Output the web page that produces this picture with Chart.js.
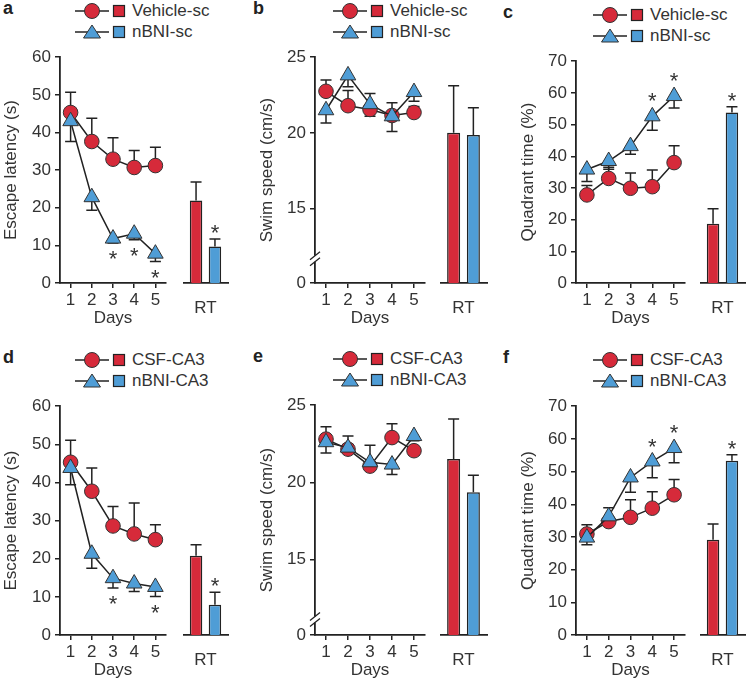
<!DOCTYPE html>
<html>
<head>
<meta charset="utf-8">
<script src="https://cdn.jsdelivr.net/npm/chart.js@4.4.0/dist/chart.umd.min.js"></script>
<style>
  body { margin: 0; background: #fff; }
  #fig { position: relative; width: 747px; height: 680px; overflow: hidden;
         font-family: 'Liberation Sans', Arial, Helvetica, sans-serif; color: #333; }
  #fig canvas { position: absolute; }
  .letter { position: absolute; font-weight: bold; font-size: 18px; color: #222; line-height: 18px; }
  .leg { position: absolute; height: 22px; display: flex; align-items: center; font-size: 17px; white-space: nowrap; }
  .leg span { margin-left: 5px; }
</style>
</head>
<body>
<div id="fig"></div>
<script>
const days = ['1', '2', '3', '4', '5'];
const rtLabels = ['RT'];
const scNames = ['Vehicle-sc', 'nBNI-sc'];
const ca3Names = ['CSF-CA3', 'nBNI-CA3'];

// a: escape latency, sc
const aVeh = [45.3, 37.6, 32.9, 30.7, 31.2];
const aVehSem = [5.4, 6.2, 5.7, 4.5, 4.9];
const aNbni = [43.0, 22.8, 11.8, 13.1, 7.8];
const aNbniSem = [-5.4, -3.5, -1.2, -1.6, -2.1];
const aStars = [0, 0, 1, 1, 1];
const aRt = [21.9, 9.7];
const aRtSem = [4.9, 2.0];
const aRtStars = [0, 1];

// b: swim speed, sc (signed sem: + up, - down)
const bVeh = [22.75, 21.8, 21.55, 21.15, 21.35];
const bVehSem = [0.75, 1.0, -0.45, 0.85, 0.4];
const bNbni = [21.5, 23.8, 21.9, 21.1, 22.7];
const bNbniSem = [-0.85, -0.75, 0.7, -1.0, -0.6];
const bRt = [20.0, 19.85];
const bRtSem = [3.1, 1.8];

// c: quadrant time, sc
const cVeh = [27.8, 33.0, 29.9, 30.4, 38.0];
const cVehSem = [3.0, 3.5, 4.8, 5.3, 5.3];
const cNbni = [35.8, 38.5, 43.2, 52.6, 59.0];
const cNbniSem = [-3.8, -2.6, -2.6, -4.4, -3.8];
const cStars = [0, 0, 0, 1, 1];
const cRt = [18.7, 53.8];
const cRtSem = [4.7, 1.8];
const cRtStars = [0, 1];

// d: escape latency, CA3
const dVeh = [45.3, 37.7, 28.6, 26.5, 25.0];
const dVehSem = [5.8, 6.1, 5.1, 8.1, 3.9];
const dNbni = [43.8, 21.3, 14.9, 13.5, 12.6];
const dNbniSem = [-4.4, -3.8, -2.6, -2.1, -2.5];
const dStars = [0, 0, 1, 0, 1];
const dRt = [20.75, 7.9];
const dRtSem = [2.9, 3.3];
const dRtStars = [0, 1];

// e: swim speed, CA3
const eVeh = [22.8, 22.15, 21.05, 22.9, 22.05];
const eVehSem = [0.8, 0.3, -0.25, 0.9, -0.3];
const eNbni = [22.6, 22.25, 21.3, 21.15, 23.0];
const eNbniSem = [-0.7, 0.75, 1.1, -0.65, -0.3];
const eRt = [21.5, 19.35];
const eRtSem = [2.6, 1.1];

// f: quadrant time, CA3
const fVeh = [30.9, 34.7, 36.0, 38.8, 42.9];
const fVehSem = [2.8, -1.0, 5.4, 5.0, 4.7];
const fNbni = [29.8, 36.3, 48.2, 53.1, 57.2];
const fNbniSem = [-2.2, 2.6, -4.5, -5.0, -4.5];
const fStars = [0, 0, 0, 1, 1];
const fRt = [29.1, 53.3];
const fRtSem = [4.8, 1.8];
const fRtStars = [0, 1];

const latTicks = [0, 10, 20, 30, 40, 50, 60];
const quadTicks = [0, 10, 20, 30, 40, 50, 60, 70];
const swimBase = 10.1;
const swimTicks = [swimBase, 15, 20, 25];

const RED = '#d62a3a';
const BLUE = '#4f9dd6';
const INK = '#222';

Chart.defaults.font.family = "'Liberation Sans', Arial, Helvetica, sans-serif";
Chart.defaults.font.size = 17;
Chart.defaults.color = '#333';

const cols = [
  { x0: 0,   titleX: 11,  yAxisX: 60,  lineRight: 172, rtLeft: 183, rtRight: 228, legX: 75 },
  { x0: 250, titleX: 267, yAxisX: 315, lineRight: 431, rtLeft: 440, rtRight: 487, legX: 83 },
  { x0: 500, titleX: 528, yAxisX: 576, lineRight: 691, rtLeft: 700, rtRight: 745, legX: 93 }
];

const panels = [
  { id: 'a', col: 0, top: 57, bottom: 283, yTitle: 'Escape latency (s)', ticks: latTicks, names: scNames,
    veh: aVeh, vehSem: aVehSem, nb: aNbni, nbSem: aNbniSem, stars: aStars, starSide: 'below', rt: aRt, rtSem: aRtSem, rtStars: aRtStars },
  { id: 'b', col: 1, top: 57, bottom: 283, yTitle: 'Swim speed (cm/s)', ticks: swimTicks, names: scNames, breakAt: 11.7,
    veh: bVeh, vehSem: bVehSem, nb: bNbni, nbSem: bNbniSem, rt: bRt, rtSem: bRtSem },
  { id: 'c', col: 2, top: 61, bottom: 283, yTitle: 'Quadrant time (%)', ticks: quadTicks, names: scNames,
    veh: cVeh, vehSem: cVehSem, nb: cNbni, nbSem: cNbniSem, stars: cStars, starSide: 'above', rt: cRt, rtSem: cRtSem, rtStars: cRtStars },
  { id: 'd', col: 0, top: 406, bottom: 635, yTitle: 'Escape latency (s)', ticks: latTicks, names: ca3Names,
    veh: dVeh, vehSem: dVehSem, nb: dNbni, nbSem: dNbniSem, stars: dStars, starSide: 'below', rt: dRt, rtSem: dRtSem, rtStars: dRtStars },
  { id: 'e', col: 1, top: 405, bottom: 635, yTitle: 'Swim speed (cm/s)', ticks: swimTicks, names: ca3Names, breakAt: 11.1,
    veh: eVeh, vehSem: eVehSem, nb: eNbni, nbSem: eNbniSem, rt: eRt, rtSem: eRtSem },
  { id: 'f', col: 2, top: 406, bottom: 635, yTitle: 'Quadrant time (%)', ticks: quadTicks, names: ca3Names,
    veh: fVeh, vehSem: fVehSem, nb: fNbni, nbSem: fNbniSem, stars: fStars, starSide: 'above', rt: fRt, rtSem: fRtSem, rtStars: fRtStars }
];

// error bars + significance stars + axis break
const decor = {
  id: 'decor',
  beforeDatasetsDraw(chart) {
    const { ctx } = chart;
    const y = chart.scales.y;
    chart.data.datasets.forEach((ds, i) => {
      if (!ds.sem) return;
      chart.getDatasetMeta(i).data.forEach((el, j) => {
        const py = y.getPixelForValue(ds.data[j] + ds.sem[j]);
        ctx.save();
        ctx.strokeStyle = INK;
        ctx.lineWidth = 1.5;
        ctx.beginPath();
        ctx.moveTo(el.x, el.y);
        ctx.lineTo(el.x, py);
        ctx.moveTo(el.x - 5.5, py);
        ctx.lineTo(el.x + 5.5, py);
        ctx.stroke();
        ctx.restore();
      });
    });
  },
  afterDatasetsDraw(chart) {
    const { ctx } = chart;
    const y = chart.scales.y;
    chart.data.datasets.forEach((ds, i) => {
      if (!ds.stars) return;
      const r = ds.pointRadius || 0;
      chart.getDatasetMeta(i).data.forEach((el, j) => {
        if (!ds.stars[j]) return;
        const errPx = y.getPixelForValue(ds.data[j] + ds.sem[j]);
        const cy = ds.starSide === 'below'
          ? Math.max(errPx, el.y + r / 2) + 12
          : Math.min(errPx, el.y - r) - 10;
        ctx.save();
        ctx.fillStyle = '#333';
        ctx.font = "22px 'Liberation Sans', Arial, sans-serif";
        ctx.textAlign = 'center';
        ctx.textBaseline = 'middle';
        ctx.fillText('*', el.x, cy + 5);
        ctx.restore();
      });
    });
  },
  afterDraw(chart) {
    const brk = chart.options.plugins.decor && chart.options.plugins.decor.breakAt;
    if (!brk) return;
    const { ctx } = chart;
    const x = chart.chartArea.left;
    const py = chart.scales.y.getPixelForValue(brk);
    ctx.save();
    ctx.fillStyle = '#fff';
    ctx.fillRect(x - 3, py - 3, 6, 6);
    ctx.strokeStyle = INK;
    ctx.lineWidth = 1.3;
    ctx.beginPath();
    ctx.moveTo(x - 5, py + 1); ctx.lineTo(x + 5, py - 7);
    ctx.moveTo(x - 5, py + 7); ctx.lineTo(x + 5, py - 1);
    ctx.stroke();
    ctx.restore();
  }
};

const fig = document.getElementById('fig');
const padTop = 14;
const xAxisH = 46;

function makeCanvas(left, top, w, h) {
  const c = document.createElement('canvas');
  c.width = w; c.height = h;
  c.style.left = left + 'px'; c.style.top = top + 'px';
  c.style.width = w + 'px'; c.style.height = h + 'px';
  fig.appendChild(c);
  return c;
}

function yScale(p, show, yW) {
  const t = p.ticks;
  return {
    display: show,
    min: t[0], max: t[t.length - 1],
    afterBuildTicks: (s) => { s.ticks = t.map((v) => ({ value: v })); },
    afterFit: (s) => { if (show) s.width = yW; },
    grid: { drawOnChartArea: false, drawTicks: true, tickLength: 5, color: INK, lineWidth: 1.5 },
    border: { display: show, color: INK, width: 1.8 },
    ticks: { padding: 4, color: '#333', callback: (v) => (v === swimBase ? '0' : v) },
    title: { display: show, text: p.yTitle, color: '#333', padding: 0, font: { size: 17 } }
  };
}

function legendRow(x, cy, color, shape, text) {
  const d = document.createElement('div');
  d.className = 'leg';
  d.style.left = x + 'px';
  d.style.top = (cy - 11) + 'px';
  const marker = shape === 'circle'
    ? `<circle cx="17" cy="11" r="7.5" fill="${color}" stroke="#333" stroke-width="1"/>`
    : `<polygon points="17,4 25.5,17 8.5,17" fill="${color}" stroke="#333" stroke-width="1"/>`;
  d.innerHTML = `<svg width="52" height="22">
      <line x1="0" y1="11" x2="34" y2="11" stroke="${INK}" stroke-width="1.5"/>${marker}
      <rect x="38.5" y="5.5" width="11" height="11" fill="${color}" stroke="${INK}" stroke-width="1.2"/>
    </svg><span>${text}</span>`;
  fig.appendChild(d);
}

panels.forEach((p) => {
  const col = cols[p.col];
  const plotH = p.bottom - p.top;
  const canvasTop = p.top - padTop;
  const canvasH = plotH + padTop + xAxisH;

  // panel letter and legend
  const L = document.createElement('div');
  L.className = 'letter';
  L.textContent = p.id;
  L.style.left = (col.x0 + 3) + 'px';
  L.style.top = (p.top - 58) + 'px';
  fig.appendChild(L);
  legendRow(col.x0 + col.legX, p.top - 46, RED, 'circle', p.names[0]);
  legendRow(col.x0 + col.legX, p.top - 25, BLUE, 'triangle', p.names[1]);

  // daily line chart
  const cl = col.titleX - 10;
  const yW = col.yAxisX - cl;
  const lc = makeCanvas(cl, canvasTop, col.lineRight - cl + 4, canvasH);
  new Chart(lc, {
    type: 'line',
    data: {
      labels: days,
      datasets: [
        { label: p.names[1], data: p.nb, sem: p.nbSem, stars: p.stars, starSide: p.starSide, order: 0,
          borderColor: INK, borderWidth: 1.5, pointStyle: 'triangle', pointRadius: 9,
          pointBackgroundColor: BLUE, pointBorderColor: '#333', pointBorderWidth: 1, clip: false },
        { label: p.names[0], data: p.veh, sem: p.vehSem, order: 1,
          borderColor: INK, borderWidth: 1.5, pointStyle: 'circle', pointRadius: 7.3,
          pointBackgroundColor: RED, pointBorderColor: '#333', pointBorderWidth: 1, clip: false }
      ]
    },
    options: {
      responsive: false, animation: false, devicePixelRatio: 1,
      layout: { padding: { top: padTop, right: 4, left: 0, bottom: 0 } },
      plugins: { legend: { display: false }, tooltip: { enabled: false }, decor: { breakAt: p.breakAt } },
      scales: {
        x: {
          type: 'category', offset: true,
          afterFit: (s) => { s.height = xAxisH; },
          grid: { drawOnChartArea: false, drawTicks: true, tickLength: 5, color: INK, lineWidth: 1.5 },
          border: { display: true, color: INK, width: 1.8 },
          ticks: { padding: 2, color: '#333', maxRotation: 0 },
          title: { display: true, text: 'Days', color: '#333', padding: 0, font: { size: 17 } }
        },
        y: yScale(p, true, yW)
      }
    },
    plugins: [decor]
  });

  // retention test bars
  const bc = makeCanvas(col.rtLeft, canvasTop, col.rtRight - col.rtLeft + 2, canvasH);
  const base = p.breakAt ? swimBase : 0;
  new Chart(bc, {
    type: 'bar',
    data: {
      labels: rtLabels,
      datasets: [
        { label: p.names[0], data: [p.rt[0]], sem: [p.rtSem[0]], stars: p.rtStars ? [p.rtStars[0]] : null,
          starSide: 'above', base, backgroundColor: RED, borderColor: INK, borderWidth: 1.5,
          categoryPercentage: 0.84, barPercentage: 0.66 },
        { label: p.names[1], data: [p.rt[1]], sem: [p.rtSem[1]], stars: p.rtStars ? [p.rtStars[1]] : null,
          starSide: 'above', base, backgroundColor: BLUE, borderColor: INK, borderWidth: 1.5,
          categoryPercentage: 0.84, barPercentage: 0.66 }
      ]
    },
    options: {
      responsive: false, animation: false, devicePixelRatio: 1,
      layout: { padding: { top: padTop, right: 2, left: 0, bottom: 0 } },
      plugins: { legend: { display: false }, tooltip: { enabled: false } },
      scales: {
        x: {
          type: 'category',
          afterFit: (s) => { s.height = xAxisH; },
          grid: { display: false },
          border: { display: true, color: INK, width: 1.8 },
          ticks: { padding: 7, color: '#333' }
        },
        y: yScale(p, false, 0)
      }
    },
    plugins: [decor]
  });
});
</script>
</body>
</html>
